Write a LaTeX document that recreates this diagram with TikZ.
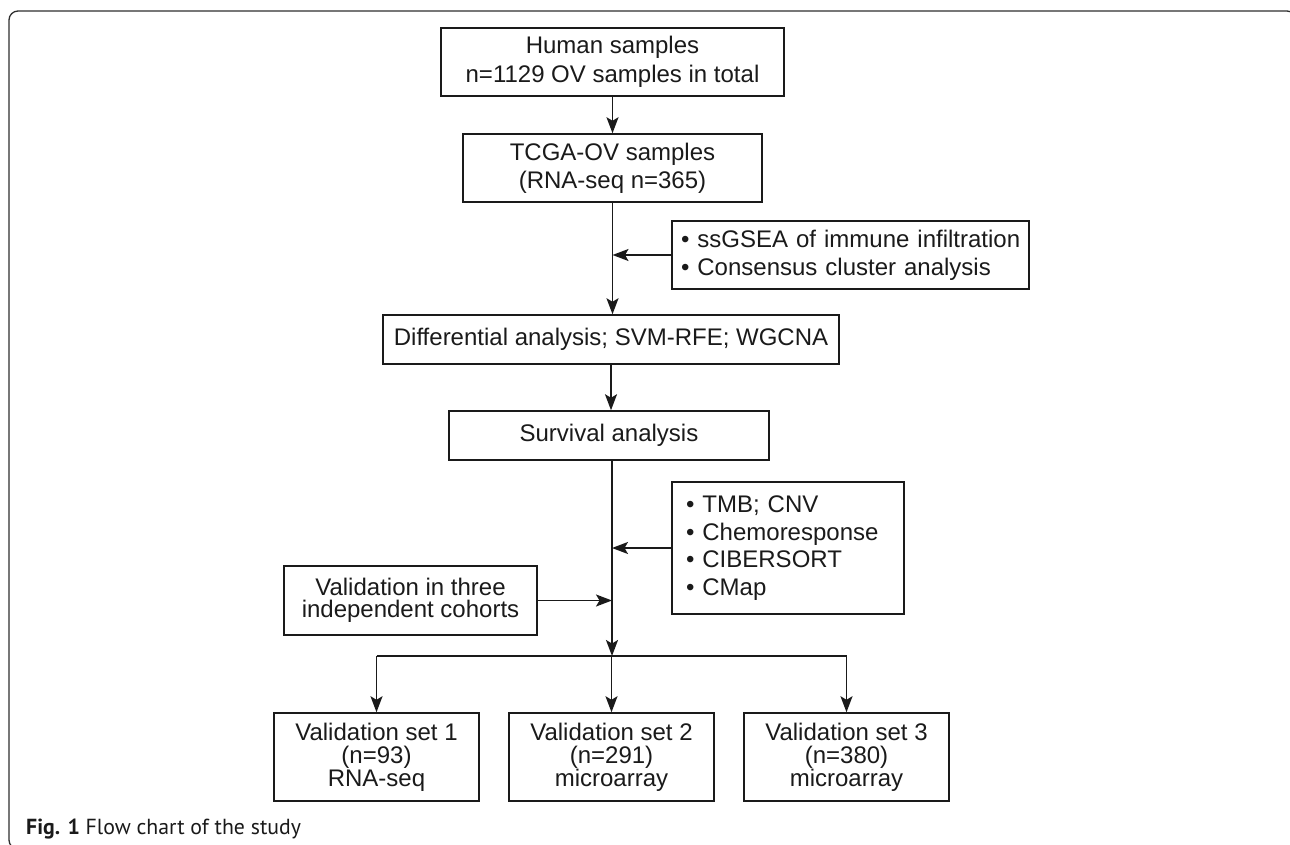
\documentclass[tikz,border=0pt]{standalone}
\usepackage{fontspec}
\setmainfont{Liberation Sans}
\newfontfamily\capfont{PT Sans}
\usepackage{tikz}
\usetikzlibrary{arrows.meta,positioning}
\definecolor{InkBlack}{HTML}{1A1A1A}
\definecolor{FrameGray}{HTML}{2E2E2E}

\begin{document}
\begin{tikzpicture}[x=1pt,y=-1pt,
    flowbox/.style={draw=InkBlack,line width=1.5pt,inner sep=0pt,align=center,text=InkBlack,font=\fontsize{24}{28}\selectfont},
    listbox/.style={flowbox,align=left},
    flowarrow/.style={InkBlack,line width=1.7pt,-{Stealth[length=16pt,width=12pt,inset=3.5pt]}}]
  \useasboundingbox (0,0) rectangle (1290,845);
  % outer frame of the figure
  \draw[FrameGray,line width=1.3pt,rounded corners=9pt] (9,11) rectangle (1296,849);

  \node[flowbox,minimum width=343pt,minimum height=68pt,font=\fontsize{24}{29}\selectfont] (human) at (612.5,62) {Human samples\\n=1129 OV samples in total};
  \node[flowbox,minimum width=299pt,minimum height=68pt] (tcga) at (612.5,168) {TCGA-OV samples\\(RNA-seq n=365)};
  \node[listbox,text width=339pt,inner xsep=9pt,minimum height=68pt] (ssgsea) at (850.5,255) {\mbox{\textbullet\ ssGSEA of immune infiltration}\\\mbox{\textbullet\ Consensus cluster analysis}};
  \node[flowbox,minimum width=456pt,minimum height=49pt] (diff) at (611,339.5) {Differential analysis; SVM-RFE; WGCNA};
  \node[flowbox,minimum width=320pt,minimum height=49pt] (surv) at (609,435.5) {Survival analysis};
  \node[listbox,text width=204pt,inner xsep=14pt,minimum height=132pt,font=\fontsize{24}{27.7}\selectfont] (tmb) at (788,548) {\textbullet\ TMB; CNV\\\textbullet\ Chemoresponse\\\textbullet\ CIBERSORT\\\textbullet\ CMap};
  \node[flowbox,minimum width=253pt,minimum height=69pt,font=\fontsize{24}{21.5}\selectfont] (valid) at (410.5,600.5) {Validation in three\\independent cohorts};

  % the three validation sets
  \node[flowbox,minimum width=205pt,minimum height=88pt,font=\fontsize{24}{23}\selectfont] (setone) at (376.5,757) {Validation set 1\\(n=93)\\RNA-seq};
  \node[flowbox,minimum width=205pt,minimum height=88pt,font=\fontsize{24}{23}\selectfont] (settwo) at (611.5,757) {Validation set 2\\(n=291)\\microarray};
  \node[flowbox,minimum width=205pt,minimum height=88pt,font=\fontsize{24}{23}\selectfont] (setthree) at (846.5,757) {Validation set 3\\(n=380)\\microarray};

  \coordinate (split) at (612,656);

  \draw[flowarrow] (human.south) -- (tcga.north);
  \draw[flowarrow] (tcga.south) -- (tcga.south |- diff.north);
  \draw[flowarrow] (ssgsea.west) -- (ssgsea.west -| tcga.south);
  \draw[flowarrow] (diff.south) -- (diff.south |- surv.north);
  \draw[flowarrow] (split |- surv.south) -- (split);
  \draw[flowarrow] (tmb.west) -- (tmb.west -| split);
  \draw[flowarrow] (valid.east) -- (valid.east -| split);
  \draw[InkBlack,line width=1.7pt] (split -| setone.north) -- (split -| setthree.north);
  \foreach \s in {setone,settwo,setthree}
    \draw[flowarrow] (split -| \s.north) -- (\s.north);

  \node[anchor=base west,inner sep=0pt,text=InkBlack,font=\capfont\fontsize{21.8}{24}\selectfont] (caption) at (26,834) {\textbf{Fig. 1} Flow chart of the study};
\end{tikzpicture}
\end{document}
